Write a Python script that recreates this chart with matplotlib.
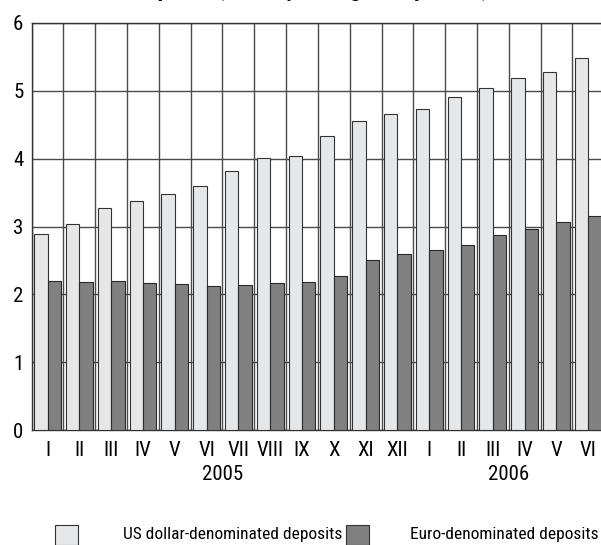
import numpy as np
import matplotlib
matplotlib.use('Agg')
import matplotlib.pyplot as plt
from matplotlib.patches import Rectangle
from matplotlib import font_manager

# monthly averages, in %
months = ['I', 'II', 'III', 'IV', 'V', 'VI', 'VII', 'VIII', 'IX', 'X', 'XI', 'XII',
          'I', 'II', 'III', 'IV', 'V', 'VI']
years = ['2005', '2006']
usd = [2.89, 3.04, 3.27, 3.38, 3.48, 3.60, 3.82, 4.01, 4.04, 4.34, 4.55, 4.66,
       4.73, 4.91, 5.04, 5.19, 5.28, 5.48]
eur = [2.19, 2.18, 2.19, 2.17, 2.15, 2.12, 2.14, 2.16, 2.18, 2.27, 2.50, 2.60,
       2.65, 2.72, 2.87, 2.96, 3.06, 3.16]
labels = ['US dollar-denominated deposits', 'Euro-denominated deposits']

light = '#e6e7e8'
dark = '#808080'

# pick a narrow face if one is around
names = set(f.name for f in font_manager.fontManager.ttflist)
narrow = [n for n in ['Roboto Condensed', 'Liberation Sans Narrow', 'Open Sans Condensed']
          if n in names]
if narrow:
    plt.rcParams['font.family'] = [narrow[0], 'DejaVu Sans']
    fs = 12.5
else:
    plt.rcParams['font.family'] = ['DejaVu Sans']
    fs = 10

W, H = 601, 545
fig = plt.figure(figsize=(W / 100, H / 100), dpi=100)
ax = fig.add_axes([31.7 / W, (H - 430) / H, 572.4 / W, 407 / H])

x = np.arange(len(months))
bw = 0.42
ax.bar(x - bw / 2, usd, bw, color=light, edgecolor='#333333', linewidth=0.8, zorder=3)
ax.bar(x + bw / 2, eur, bw, color=dark, edgecolor='#2a2a2a', linewidth=0.8, zorder=3)

ax.set_xlim(-0.5, len(months) - 0.5)
ax.set_ylim(0, 6)
ax.set_yticks(range(7))
ax.set_xticks(x)
ax.set_xticklabels(months)
ax.set_xticks(np.arange(len(months) + 1) - 0.5, minor=True)
ax.tick_params(axis='both', which='both', length=0, labelsize=fs + 2.5)
ax.tick_params(axis='x', pad=8)
ax.tick_params(axis='y', pad=6)
ax.grid(True, axis='y', which='major', color='#4a4a4a', linewidth=1, zorder=0)
ax.grid(True, axis='x', which='minor', color='#4a4a4a', linewidth=1, zorder=0)
ax.grid(False, axis='x', which='major')
for s in ax.spines.values():
    s.set_color('#333333')
    s.set_linewidth(1)

# year labels under the month labels
for i, yr in enumerate(years):
    ax.annotate(yr, xy=(5.5 + 9 * i, 0), xycoords=('data', 'axes fraction'),
                xytext=(0, -25), textcoords='offset points', ha='center', va='top',
                fontsize=fs + 2.5)

# legend row at the bottom
for i, lab in enumerate(labels):
    sx = [55, 346][i]
    fig.patches.append(Rectangle((sx / W, 0), 23 / W, 20 / H, transform=fig.transFigure,
                                 facecolor=[light, dark][i], edgecolor='#333333',
                                 linewidth=0.8))
fig.text(123 / W, 6 / H, labels[0], fontsize=fs, ha='left', va='baseline')
fig.text(599 / W, 6 / H, labels[1], fontsize=fs, ha='right', va='baseline')

# title, mostly cut off at the top edge
fig.text(236 / W, 1.0 + 4 / H, 'Interest rates on deposits (monthly averages, in percent)',
         ha='center', va='baseline', fontsize=16, fontweight='bold')

fig.savefig('out.png', dpi=100)
